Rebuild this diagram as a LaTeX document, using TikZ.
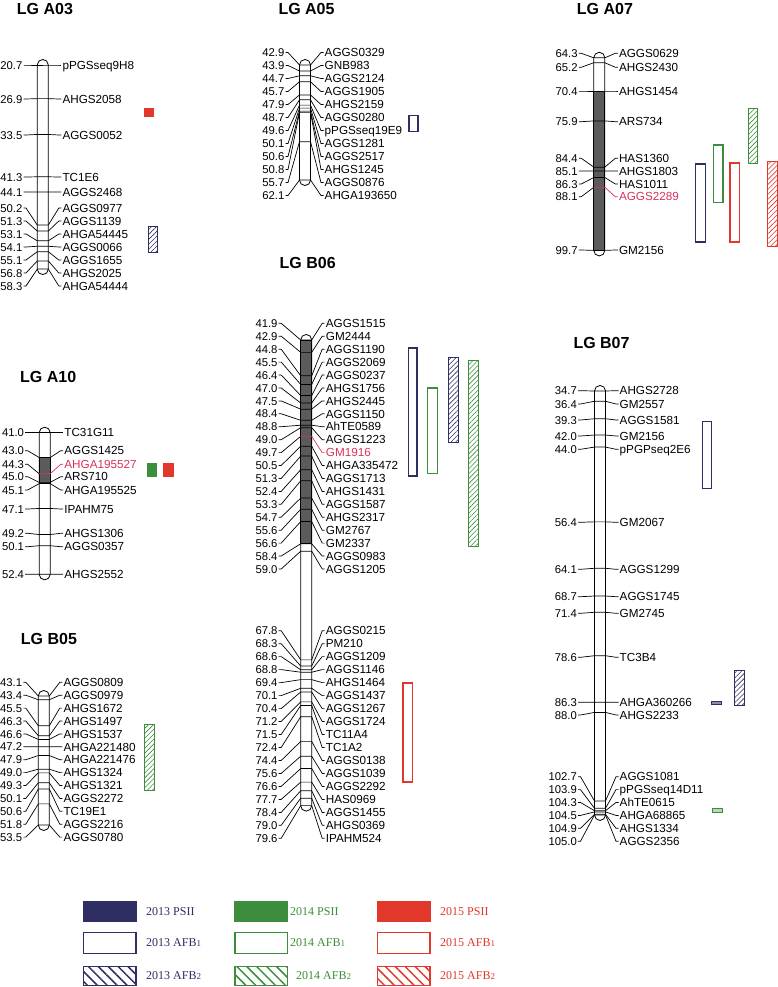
\documentclass[tikz,border=0pt]{standalone}
\usepackage{fontspec}
\setmainfont{Liberation Sans}
\newfontfamily\legfont{Liberation Serif}
\usetikzlibrary{calc,patterns.meta}

\definecolor{navy}{HTML}{2F2E63}
\definecolor{qgreen}{HTML}{3C8D3C}
\definecolor{qred}{HTML}{E2372B}
\definecolor{mred}{HTML}{D9325A}
\definecolor{barfill}{HTML}{5B5B5B}

\tikzset{
  cmlab/.style={anchor=east,inner sep=1pt,font=\fontsize{11.3}{13}\selectfont,text height=8.2pt,text depth=0pt},
  mklab/.style={anchor=west,inner sep=1pt,font=\fontsize{11.7}{13}\selectfont,text height=8.4pt,text depth=0pt},
  conn/.style={line width=0.7pt},
  chrom/.style={line width=0.8pt,fill=white,rounded corners=5.4pt},
  lgtitle/.style={anchor=west,inner sep=0pt,font=\bfseries\fontsize{16}{18}\selectfont,text height=11.5pt,text depth=0pt},
  psii/.style={fill=#1},
  afb1/.style={draw=#1,line width=1.4pt},
  afb2/.style={draw=#1,line width=0.9pt,pattern={Lines[angle=45,distance=3.5pt,line width=0.6pt]},pattern color=#1},
  legtext/.style={anchor=west,inner sep=0pt,font=\legfont\fontsize{12}{14}\selectfont,text height=8pt,text depth=0pt},
  legafb2/.style={draw=#1,line width=1.4pt,pattern={Lines[angle=-45,distance=7pt,line width=1.5pt]},pattern color=#1}
}

\def\hw{5.5}
\def\ra{13}
\newcounter{mk}
% group: bar x, left arm, first cM, its y, px per cM
\newcommand\setlg[5]{\def\bx{#1}\def\la{#2}\def\cz{#3}\def\yz{#4}\def\sc{#5}}
\newcommand\lgbar[2]{%
  \pgfmathsetmacro\ya{\yz+\sc*(#1-\cz)-\hw}%
  \pgfmathsetmacro\yb{\yz+\sc*(#2-\cz)+\hw}%
  \draw[chrom] (\bx-\hw,\ya) rectangle (\bx+\hw,\yb);}
\newcommand\lggray[2]{%
  \pgfmathsetmacro\ya{\yz+\sc*(#1-\cz)}%
  \pgfmathsetmacro\yb{\yz+\sc*(#2-\cz)}%
  \filldraw[fill=barfill,line width=0.7pt] (\bx-\hw,\ya) rectangle (\bx+\hw,\yb);}
\newcommand\mk[4][black]{%
  \stepcounter{mk}%
  \pgfmathsetmacro\tk{\yz+\sc*(#2-\cz)}%
  \node[cmlab] (p\arabic{mk}) at (\bx-\hw-\la,#3) {#2};%
  \node[mklab,text=#1] (q\arabic{mk}) at (\bx+\hw+\ra,#3) {#4};%
  \draw[conn] (p\arabic{mk}.east) -- ++(2.5,0) -- (\bx-\hw,\tk);%
  \draw[conn,#1] (\bx-\hw,\tk) -- (\bx+\hw,\tk) -- ($(q\arabic{mk}.west)+(-2.5,0)$) -- (q\arabic{mk}.west);%
}

\begin{document}
\begin{tikzpicture}[x=1pt,y=-1pt]
  \useasboundingbox (0,0) rectangle (778,987);

  % LG A03
  \node[lgtitle] (tA03) at (16.7,8.5) {LG A03};
  \setlg{42.8}{13.8}{20.7}{65}{5.427}
  \lgbar{20.7}{58.3}
  \mk{20.7}{65}{pPGSseq9H8}
  \mk{26.9}{99}{AHGS2058}
  \mk{33.5}{135}{AGGS0052}
  \mk{41.3}{177}{TC1E6}
  \mk{44.1}{192}{AGGS2468}
  \mk{50.2}{208}{AGGS0977}
  \mk{51.3}{221}{AGGS1139}
  \mk{53.1}{234}{AHGA54445}
  \mk{54.1}{247}{AGGS0066}
  \mk{55.1}{260}{AGGS1655}
  \mk{56.8}{273}{AHGS2025}
  \mk{58.3}{286}{AHGA54444}
  \fill[psii=qred] (144.3,107.7) rectangle (154.3,117.3);
  \draw[afb2=navy] (148.2,226.5) rectangle (157.5,252.8);

  % LG A05
  \node[lgtitle] (tA05) at (278.3,8.5) {LG A05};
  \setlg{305}{14}{42.9}{65}{5.99}
  \lgbar{42.9}{62.1}
  \mk{42.9}{52.5}{AGGS0329}
  \mk{43.9}{65.5}{GNB983}
  \mk{44.7}{78.5}{AGGS2124}
  \mk{45.7}{91.5}{AGGS1905}
  \mk{47.9}{104.5}{AHGS2159}
  \mk{48.7}{117.5}{AGGS0280}
  \mk{49.6}{130.5}{pPGSseq19E9}
  \mk{50.1}{143.5}{AGGS1281}
  \mk{50.6}{156.5}{AGGS2517}
  \mk{50.8}{169.5}{AHGS1245}
  \mk{55.7}{182.5}{AGGS0876}
  \mk{62.1}{195.5}{AHGA193650}
  \draw[afb1=navy] (409,115.7) rectangle (418,131.6);

  % LG A07
  \node[lgtitle] (tA07) at (576.7,8.5) {LG A07};
  \setlg{599.3}{15}{70.4}{91}{5.44}
  \lgbar{64.3}{99.7}
  \lggray{70.4}{99.7}
  \mk{64.3}{53.3}{AGGS0629}
  \mk{65.2}{67.3}{AHGS2430}
  \mk{70.4}{91}{AHGS1454}
  \mk{75.9}{121.7}{ARS734}
  \mk{84.4}{158.3}{HAS1360}
  \mk{85.1}{171}{AHGS1803}
  \mk{86.3}{184}{HAS1011}
  \mk[mred]{88.1}{196.7}{AGGS2289}
  \mk{99.7}{250}{GM2156}
  \draw[afb1=navy] (695.7,164) rectangle (705.3,242);
  \draw[afb1=qgreen] (713.4,145) rectangle (723,202.6);
  \draw[afb1=qred] (730,163) rectangle (739.6,242);
  \draw[afb2=qgreen] (748.2,108.8) rectangle (757.8,163.8);
  \draw[afb2=qred] (767.8,161.2) rectangle (777.3,246.8);

  % LG A10
  \node[lgtitle] (tA10) at (20,377) {LG A10};
  \setlg{44.7}{14}{41.0}{432.7}{12.42}
  \lgbar{41.0}{52.4}
  \lggray{43.0}{45.1}
  \mk{41.0}{432.7}{TC31G11}
  \mk{43.0}{450.7}{AGGS1425}
  \mk[mred]{44.3}{464.3}{AHGA195527}
  \mk{45.0}{476.7}{ARS710}
  \mk{45.1}{490}{AHGA195525}
  \mk{47.1}{509}{IPAHM75}
  \mk{49.2}{533.3}{AHGS1306}
  \mk{50.1}{546.7}{AGGS0357}
  \mk{52.4}{574.3}{AHGS2552}
  \fill[psii=qgreen] (146.7,462.7) rectangle (157.3,476.7);
  \fill[psii=qred] (163.3,462.7) rectangle (174.3,476.7);

  % LG B05
  \node[lgtitle] (tB05) at (20.7,638.8) {LG B05};
  \setlg{43.8}{15}{43.1}{696}{12.4}
  \lgbar{43.1}{53.5}
  \mk{43.1}{682.3}{AGGS0809}
  \mk{43.4}{695.2}{AGGS0979}
  \mk{45.5}{708.1}{AHGS1672}
  \mk{46.3}{721}{AHGS1497}
  \mk{46.6}{733.9}{AHGS1537}
  \mk{47.2}{746.8}{AHGA221480}
  \mk{47.9}{759.7}{AHGA221476}
  \mk{49.0}{772.6}{AHGS1324}
  \mk{49.3}{785.5}{AHGS1321}
  \mk{50.1}{798.4}{AGGS2272}
  \mk{50.6}{811.3}{TC19E1}
  \mk{51.8}{824.2}{AGGS2216}
  \mk{53.5}{837.1}{AGGS0780}
  \draw[afb2=qgreen] (144.8,724.5) rectangle (154.5,790.2);

  % LG B06
  \node[lgtitle] (tB06) at (279.5,263) {LG B06};
  \setlg{306.2}{22}{41.9}{340}{12.35}
  \lgbar{41.9}{79.6}
  \lggray{41.9}{58.4}
  \mk{41.9}{323.3}{AGGS1515}
  \mk{42.9}{336.2}{GM2444}
  \mk{44.8}{349.2}{AGGS1190}
  \mk{45.5}{362.1}{AGGS2069}
  \mk{46.4}{375}{AGGS0237}
  \mk{47.0}{388}{AHGS1756}
  \mk{47.5}{400.9}{AHGS2445}
  \mk{48.4}{413.8}{AGGS1150}
  \mk{48.8}{426.7}{AhTE0589}
  \mk{49.0}{439.7}{AGGS1223}
  \mk[mred]{49.7}{452.6}{GM1916}
  \mk{50.5}{465.5}{AHGA335472}
  \mk{51.3}{478.5}{AGGS1713}
  \mk{52.4}{491.4}{AHGS1431}
  \mk{53.3}{504.3}{AGGS1587}
  \mk{54.7}{517.2}{AHGS2317}
  \mk{55.6}{530.2}{GM2767}
  \mk{56.6}{543.1}{GM2337}
  \mk{58.4}{556}{AGGS0983}
  \mk{59.0}{569}{AGGS1205}
  \mk{67.8}{630.7}{AGGS0215}
  \mk{68.3}{643.7}{PM210}
  \mk{68.6}{656.6}{AGGS1209}
  \mk{68.8}{669.6}{AGGS1146}
  \mk{69.4}{682.6}{AHGS1464}
  \mk{70.1}{695.6}{AGGS1437}
  \mk{70.4}{708.6}{AGGS1267}
  \mk{71.2}{721.5}{AGGS1724}
  \mk{71.5}{734.5}{TC11A4}
  \mk{72.4}{747.5}{TC1A2}
  \mk{74.4}{760.5}{AGGS0138}
  \mk{75.6}{773.4}{AGGS1039}
  \mk{76.6}{786.4}{AGGS2292}
  \mk{77.7}{799.4}{HAS0969}
  \mk{78.4}{812.4}{AGGS1455}
  \mk{79.0}{825.3}{AHGS0369}
  \mk{79.6}{838.3}{IPAHM524}
  \draw[afb1=navy] (408.4,348) rectangle (417,476);
  \draw[afb1=qgreen] (427.7,388) rectangle (437.6,473.6);
  \draw[afb2=navy] (448.8,357.2) rectangle (458.2,442.8);
  \draw[afb2=qgreen] (468.8,360.5) rectangle (478.2,546.8);
  \draw[afb1=qred] (403,683) rectangle (412.3,782);

  % LG B07
  \node[lgtitle] (tB07) at (573.3,343) {LG B07};
  \setlg{600}{16.5}{34.7}{391}{6.03}
  \lgbar{34.7}{105.0}
  \mk{34.7}{390.7}{AHGS2728}
  \mk{36.4}{404}{GM2557}
  \mk{39.3}{420}{AGGS1581}
  \mk{42.0}{436}{GM2156}
  \mk{44.0}{449.3}{pPGPseq2E6}
  \mk{56.4}{522.3}{GM2067}
  \mk{64.1}{569.3}{AGGS1299}
  \mk{68.7}{596.7}{AGGS1745}
  \mk{71.4}{613.3}{GM2745}
  \mk{78.6}{657.3}{TC3B4}
  \mk{86.3}{702.3}{AHGA360266}
  \mk{88.0}{715}{AHGS2233}
  \mk{102.7}{776.7}{AGGS1081}
  \mk{103.9}{789.6}{pPGSseq14D11}
  \mk{104.3}{802.5}{AhTE0615}
  \mk{104.5}{815.4}{AHGA68865}
  \mk{104.9}{828.3}{AHGS1334}
  \mk{105.0}{841.2}{AGGS2356}
  \draw[afb1=navy] (702.4,421.4) rectangle (711.6,488.6);
  \filldraw[fill=navy!55,draw=navy,line width=0.8pt] (711.2,701.4) rectangle (721.2,704.8);
  \draw[afb2=navy] (734.5,670.5) rectangle (744.5,705.5);
  \filldraw[fill=qgreen!35,draw=qgreen,line width=0.8pt] (712.8,808.6) rectangle (722.8,812);

  % LEGEND
  \fill[psii=navy] (82.7,900.7) rectangle (136.7,922.3);
  \node[legtext,text=navy] (l1) at (146,911.7) {2013 PSII};
  \fill[psii=qgreen] (234.3,900.7) rectangle (288.3,922.3);
  \node[legtext,text=qgreen] (l2) at (290,911.7) {2014 PSII};
  \fill[psii=qred] (376.7,900.7) rectangle (430.7,922.3);
  \node[legtext,text=qred] (l3) at (440,911.7) {2015 PSII};

  \draw[afb1=navy] (83.4,932.4) rectangle (136,953.3);
  \node[legtext,text=navy] (l4) at (146,942.7) {2013 AFB{\fontsize{9}{9}\selectfont 1}};
  \draw[afb1=qgreen] (235,932.4) rectangle (287.6,953.3);
  \node[legtext,text=qgreen] (l5) at (290,942.7) {2014 AFB{\fontsize{9}{9}\selectfont 1}};
  \draw[afb1=qred] (377.4,932.4) rectangle (430,953.3);
  \node[legtext,text=qred] (l6) at (440,942.7) {2015 AFB{\fontsize{9}{9}\selectfont 1}};

  \draw[legafb2=navy] (83.4,966.7) rectangle (136,985.3);
  \node[legtext,text=navy] (l7) at (146,975) {2013 AFB{\fontsize{9}{9}\selectfont 2}};
  \draw[legafb2=qgreen] (235,966.7) rectangle (287.6,985.3);
  \node[legtext,text=qgreen] (l8) at (296,975) {2014 AFB{\fontsize{9}{9}\selectfont 2}};
  \draw[legafb2=qred] (377.4,966.7) rectangle (430,985.3);
  \node[legtext,text=qred] (l9) at (440,975) {2015 AFB{\fontsize{9}{9}\selectfont 2}};

\end{tikzpicture}
\end{document}
